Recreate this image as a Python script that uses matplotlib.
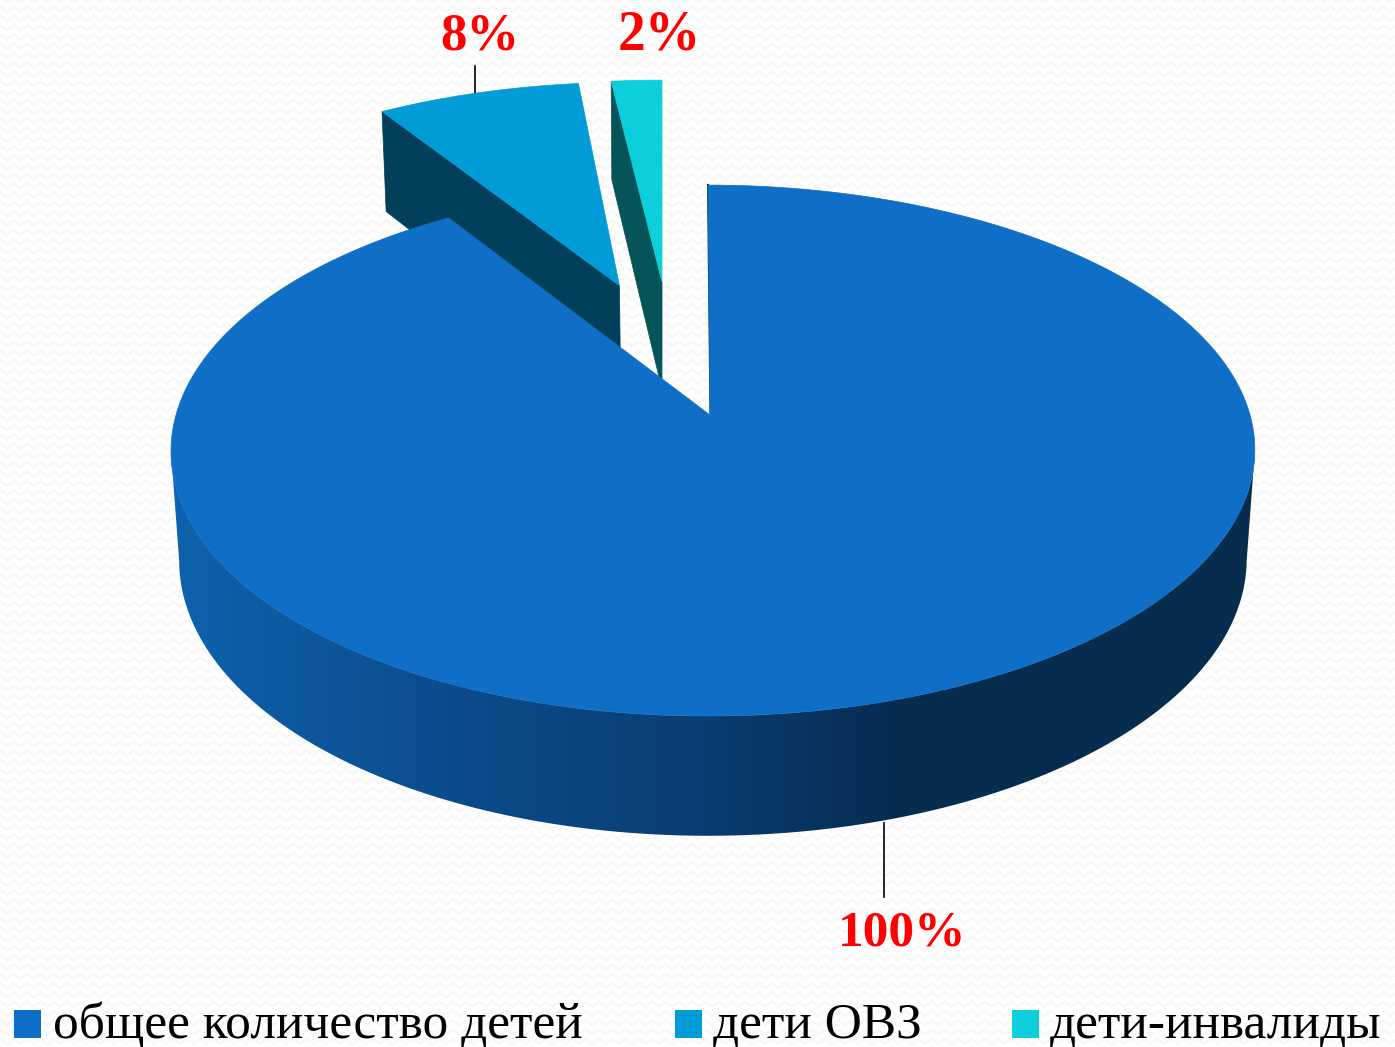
import numpy as np
import matplotlib
matplotlib.use("Agg")
import matplotlib.pyplot as plt
from matplotlib.patches import Polygon, Rectangle
from matplotlib.colors import LinearSegmentedColormap

# data
categories = ["общее количество детей", "дети ОВЗ", "дети-инвалиды"]
values = [100, 8, 2]
pct_labels = ["100%", "8%", "2%"]

# look of the pie
top_colors = ["#0F6EC6", "#019CD8", "#0CCFDB"]
side_colors = [None, "#023F5A", "#045459"]
# explode: shift in pie units, then shift in pixels
offsets = [(0, 0), (-0.179, -0.503), (0, -0.535)]
px_shift = [(0, 0), (-0.5, -6.5), (-48, -3)]

# projection of the pie on the picture (pixels)
cx, cy = 710, 415
A, B, k = 537, 260.7, 0.134
depth, depth_far, shrink = 110, 115, 0.015
wall_cmap = LinearSegmentedColormap.from_list(
    "wall", [(0, "#0E63AE"), (0.255, "#0B4C8C"), (0.49, "#0A3D72"), (0.67, "#062C50"), (1, "#062C4E")])


def project(u, v, bottom=False, d=depth):
    w = 1 - k * v
    if bottom:
        return cx + A * u / (w + shrink), cy + (B * v + d) / (w + shrink)
    return cx + A * u / w, cy + B * v / w


def rim(a0, a1, off, n=200):
    # angles clockwise from 12 o'clock
    t = np.linspace(a0, a1, n)
    return np.sin(t) + off[0], -np.cos(t) + off[1]


fig = plt.figure(figsize=(13.95, 10.47), dpi=100, facecolor="white")
ax = fig.add_axes([0, 0, 1, 1])

# faint wavy paper texture behind everything
yy, xx = np.mgrid[0:1047, 0:1395]
tri = np.abs((xx % 13.3) / 13.3 - 0.5) * 2
tex = np.where((yy + 5 * tri) % 9.3 < 3.5, 0.972, 1.0)
ax.imshow(tex, cmap="gray", vmin=0, vmax=1, extent=(0, 1395, 1047, 0), aspect="auto", zorder=0,
          interpolation="bilinear")

shares = np.array(values) / sum(values)
edges = np.concatenate([[0], np.cumsum(shares)]) * 2 * np.pi

# exploded slices first, main slice goes over them
for i in [1, 2]:
    off = offsets[i]
    sx, sy = px_shift[i]
    u, v = rim(edges[i], edges[i + 1], off)
    # wall of the left radial edge
    x0, y0 = project(u[0], v[0])
    x1, y1 = project(off[0], off[1])
    x2, y2 = project(off[0], off[1], bottom=True, d=depth_far)
    x3, y3 = project(u[0], v[0], bottom=True, d=depth_far)
    wall = np.array([(x0, y0), (x1, y1), (x2, y2), (x3, y3)]) + (sx, sy)
    ax.add_patch(Polygon(wall, closed=True, fc=side_colors[i], ec=side_colors[i], lw=0.5, zorder=2))
    xs, ys = project(u, v)
    pts = np.array(list(zip(xs, ys)) + [(x1, y1)]) + (sx, sy)
    ax.add_patch(Polygon(pts, closed=True, fc=top_colors[i], ec=top_colors[i], lw=0.5, zorder=3))

# outer wall of the main slice, gradient clipped to its outline
u, v = rim(edges[0], edges[1], offsets[0], n=700)
xt, yt = project(u, v)
xb, yb = project(u, v, bottom=True)
# picture is not quite symmetric around the apex
xt = xt - 2 + 5 * u ** 2
xb = xb - 2 + 5 * u ** 2
# only from the widest point of the rim on, so the outline does not cross itself
front = v > k
outline = list(zip(xt[front], yt[front])) + list(zip(xb[front][::-1], yb[front][::-1]))
grad = np.linspace(0, 1, 512).reshape(1, -1)
im = ax.imshow(grad, cmap=wall_cmap, extent=(165, 1260, 850, 400), aspect="auto", zorder=4)
wall_patch = Polygon(outline, closed=True, transform=ax.transData, fc="none", ec="none")
ax.add_patch(wall_patch)
im.set_clip_path(wall_patch)

# dark sliver along the edge at 12 o'clock
ax.plot([cx + 0.5, cx - 2], [cy, 185], color="#0A3A66", lw=1.5, zorder=4.5)

pts = list(zip(xt, yt)) + [(cx, cy)]
ax.add_patch(Polygon(pts, closed=True, fc=top_colors[0], ec=top_colors[0], lw=0.5, zorder=5))

# leader lines and labels
ax.plot([884, 884], [823, 897], color="black", lw=1.2, zorder=6)
ax.plot([475, 475], [66, 94], color="black", lw=1.2, zorder=1)
label_pos = [(902, 934), (480, 36), (659, 36)]
label_size = [37, 38, 40]
for txt, (lx, ly), fs in zip(pct_labels, label_pos, label_size):
    ax.text(lx, ly, txt, color="#FF0000", fontsize=fs, fontweight="bold",
            family="Liberation Serif", ha="center", va="center", zorder=7)

# legend
legend_box = [14, 675, 1012]
legend_txt = [53, 713, 1050]
for name, col, bx, tx in zip(categories, top_colors, legend_box, legend_txt):
    ax.add_patch(Rectangle((bx, 1010), 27, 28, fc=col, ec="none", zorder=7))
    ax.text(tx, 1038, name, color="black", fontsize=37, family="Liberation Serif",
            ha="left", va="baseline", zorder=7)

ax.set_xlim(0, 1395)
ax.set_ylim(1047, 0)
ax.axis("off")

fig.savefig("out.png", dpi=100)
